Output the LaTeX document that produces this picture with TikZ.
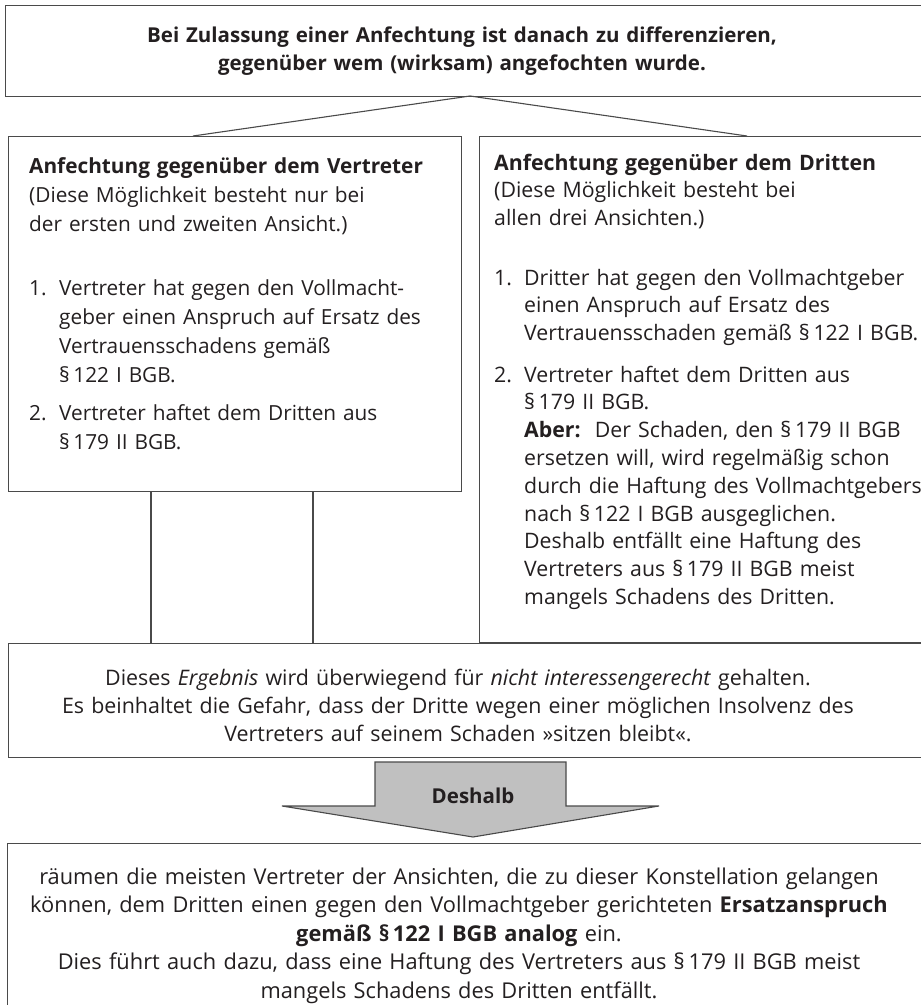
\documentclass[tikz,border=0pt]{standalone}
\usepackage{fontspec}
\setmainfont{Open Sans}
\definecolor{ink}{HTML}{231F20}
\definecolor{rulegray}{HTML}{4A4A4A}
\definecolor{arrowgray}{HTML}{C0C0C0}
% numbered entry: number, then a block of lines hanging beside it;
% the depth reset keeps the normal line distance to what follows
\newcommand\listnum[2]{\makebox[30pt][l]{#1}\parbox[t]{480pt}{\raggedright #2\strut}\par\prevdepth=\dp\strutbox}
\tikzset{
  frame/.style={draw=rulegray, line width=1.3pt, fill=white, rectangle,
    inner sep=0pt, anchor=north west},
  link/.style={draw=rulegray, line width=1.1pt},
  bodytext/.style 2 args={inner sep=0pt, text=ink, font=\fontsize{#1}{#2}\selectfont},
  leftblock/.style 2 args={bodytext={#1}{#2}, anchor=north west, text width=520pt, align=left},
  midblock/.style 2 args={bodytext={#1}{#2}, anchor=north, text width=910pt, align=center},
  downarrow/.style={draw=rulegray, line width=1.1pt, fill=arrowgray}
}
\begin{document}
\begin{tikzpicture}[x=1pt, y=-1pt]
\useasboundingbox (0,0) rectangle (921,1005);
\clip (0,0) rectangle (921,1005);

% frames
\node[frame, minimum width=930pt, minimum height=91pt] (top) at (5,5) {};
\node[frame, minimum width=453pt, minimum height=355pt] (left) at (8,136) {};
\node[frame, minimum width=460pt, minimum height=505.5pt] (right) at (479,136) {};

% branches from the question to both cases
\coordinate (apex) at (470,96);
\coordinate (leftjoin) at (193,136);
\coordinate (rightjoin) at (747,136);
\draw[link] (apex) -- (leftjoin);
\draw[link] (apex) -- (rightjoin);

% two legs below the left case
\coordinate (legAtop) at (151,491);
\coordinate (legAbot) at (151,643);
\coordinate (legBtop) at (313,491);
\coordinate (legBbot) at (313,643);
\draw[link] (legAtop) -- (legAbot);
\draw[link] (legBtop) -- (legBbot);

\node[frame, fill=none, minimum width=930pt, minimum height=114pt] (result) at (8,643) {};
\node[frame, minimum width=930pt, minimum height=200pt] (outcome) at (7,843) {};

% arrow
\draw[downarrow] (375,762) -- (566,762) -- (566,806) -- (659,806) -- (473,837)
  -- (282,806) -- (375,806) -- cycle;
\node[bodytext={20.5}{24}, anchor=base] (deshalb) at (473,803) {\bfseries Deshalb};

% texts
\node[midblock={20.5}{28}] (toptext) at (462,22.4) {\bfseries\strut Bei Zulassung einer Anfechtung ist danach zu differenzieren,\\
gegenüber wem (wirksam) angefochten wurde.};

\node[leftblock={20.8}{29.2}] (lefttext) at (29,152.5) {\strut\textbf{Anfechtung gegenüber dem Vertreter}\\
(Diese Möglichkeit besteht nur bei\\
der ersten und zweiten Ansicht.)\par
\vspace{34.4pt}
\listnum{1.}{Vertreter hat gegen den Vollmacht-\\
geber einen Anspruch auf Ersatz des\\
Vertrauensschadens gemäß\\
§\,122 I BGB.}
\vspace{8.8pt}
\listnum{2.}{Vertreter haftet dem Dritten aus\\
§\,179 II BGB.}};

\node[leftblock={21.3}{27.8}] (righttext) at (494,150.5) {\strut\textbf{Anfechtung gegenüber dem Dritten}\\
(Diese Möglichkeit besteht bei\\
allen drei Ansichten.)\par
\vspace{31.6pt}
\listnum{1.}{Dritter hat gegen den Vollmachtgeber\\
einen Anspruch auf Ersatz des\\
Vertrauensschaden gemäß §\,122 I BGB.}
\vspace{13.6pt}
\listnum{2.}{Vertreter haftet dem Dritten aus\\
§\,179 II BGB.\\
\textbf{Aber:}\ \ Der Schaden, den §\,179 II BGB\\
ersetzen will, wird regelmäßig schon\\
durch die Haftung des Vollmachtgebers\\
nach §\,122 I BGB ausgeglichen.\\
Deshalb entfällt eine Haftung des\\
Vertreters aus §\,179 II BGB meist\\
mangels Schadens des Dritten.}};

\node[midblock={21.4}{28}] (resulttext) at (458,665.4) {\strut Dieses \textit{Ergebnis} wird überwiegend für \textit{nicht interessengerecht} gehalten.\\
Es beinhaltet die Gefahr, dass der Dritte wegen einer möglichen Insolvenz des\\
Vertreters auf seinem Schaden »sitzen bleibt«.};

\node[midblock={21.8}{28.5}] (outcometext) at (459,864) {\strut räumen die meisten Vertreter der Ansichten, die zu dieser Konstellation gelangen\\
können, dem Dritten einen gegen den Vollmachtgeber gerichteten \textbf{Ersatzanspruch}\\
\textbf{gemäß §\,122 I BGB analog} ein.\\
Dies führt auch dazu, dass eine Haftung des Vertreters aus §\,179 II BGB meist\\
mangels Schadens des Dritten entfällt.};
\end{tikzpicture}
\end{document}
